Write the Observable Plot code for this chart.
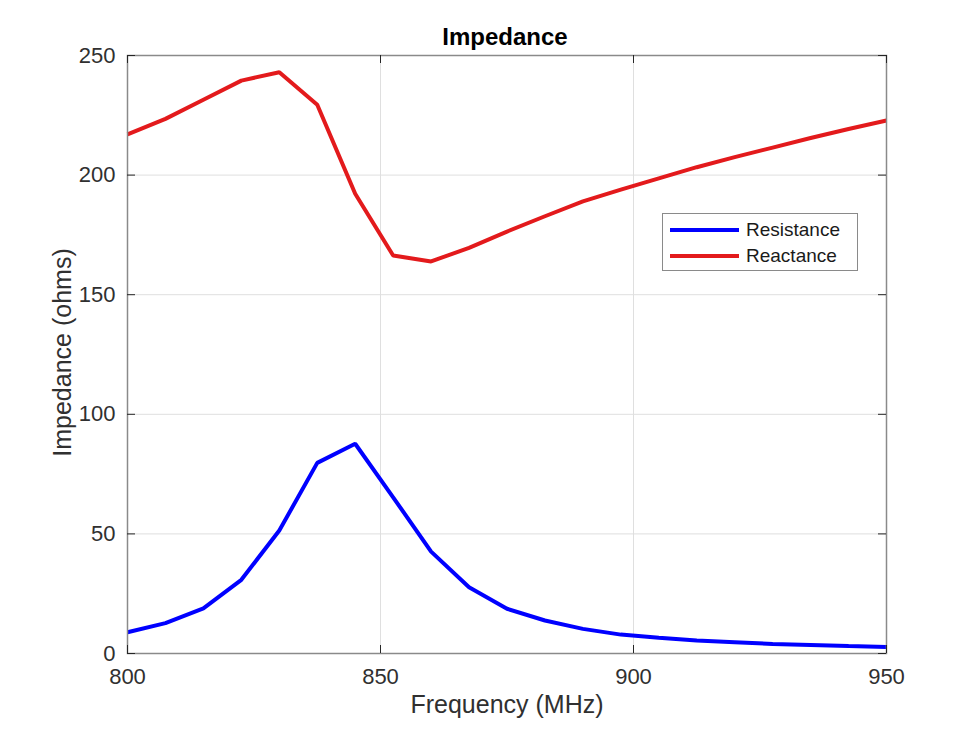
<!DOCTYPE html>
<html>
<head>
<meta charset="utf-8">
<script src="https://cdn.jsdelivr.net/npm/d3@7"></script>
<script src="https://cdn.jsdelivr.net/npm/@observablehq/plot@0.6"></script>
<style>
  html, body { margin: 0; padding: 0; background: #fff; }
  #wrap { position: relative; width: 980px; height: 735px; font-family: "Liberation Sans", Arial, Helvetica, sans-serif; }
  #legend { position: absolute; left: 662px; top: 213px; width: 196px; height: 58px; border: 1px solid #8a8a8a; background: #fff; box-sizing: border-box; }
  .item { position: absolute; left: 7px; display: flex; align-items: center; font-size: 19px; line-height: 22px; color: #1a1a1a; }
  .item svg { margin-right: 7px; }
</style>
</head>
<body>
<div id="wrap"></div>
<script>
const title = "Impedance";
const xLabel = "Frequency (MHz)";
const yLabel = "Impedance (ohms)";
const frequency = [800, 807.5, 815, 822.5, 830, 837.5, 845, 852.5, 860, 867.5, 875, 882.5, 890, 897.5, 905, 912.5, 920, 927.5, 935, 942.5, 950];
const resistance = [8.9, 12.7, 18.9, 30.8, 51.4, 79.7, 87.7, 65.3, 42.6, 27.7, 18.7, 13.8, 10.3, 7.9, 6.6, 5.4, 4.7, 4.0, 3.6, 3.1, 2.7];
const reactance = [217.0, 223.5, 231.5, 239.5, 243.0, 229.4, 192.2, 166.4, 163.9, 169.6, 176.4, 182.8, 189.0, 193.9, 198.6, 203.3, 207.5, 211.5, 215.5, 219.3, 222.8];
const seriesNames = ["Resistance", "Reactance"];
const seriesColors = ["#0000ff", "#e31a1c"];
const xTicks = [800, 850, 900, 950];
const yTicks = [0, 50, 100, 150, 200, 250];

const rows = [];
frequency.forEach((f, i) => {
  rows.push({f, v: resistance[i], s: seriesNames[0]});
  rows.push({f, v: reactance[i], s: seriesNames[1]});
});

const W = 980, H = 735;
const mL = 127, mR = 94, mT = 55, mB = 82;
const pw = W - mL - mR, ph = H - mT - mB;
const tickLen = 8;
const tickColor = "#262626";

const chart = Plot.plot({
  width: W, height: H,
  marginLeft: mL, marginRight: mR, marginTop: mT, marginBottom: mB,
  style: {fontFamily: '"Liberation Sans", Arial, Helvetica, sans-serif', background: "#fff"},
  x: {domain: [800, 950]},
  y: {domain: [0, 250]},
  color: {domain: seriesNames, range: seriesColors},
  marks: [
    Plot.ruleX(xTicks.slice(1, -1), {stroke: "#dfdfdf", strokeWidth: 1}),
    Plot.ruleY(yTicks.slice(1, -1), {stroke: "#dfdfdf", strokeWidth: 1}),
    Plot.line(rows, {x: "f", y: "v", z: "s", stroke: "s", strokeWidth: 4, strokeLinejoin: "miter", strokeLinecap: "butt"}),
    Plot.frame({stroke: "#8a8a8a", strokeWidth: 1.5}),
    // inward ticks on four sides
    Plot.tickX(xTicks, {x: d => d, insetTop: ph - tickLen, stroke: tickColor}),
    Plot.tickX(xTicks, {x: d => d, insetBottom: ph - tickLen, stroke: tickColor}),
    Plot.tickY(yTicks, {y: d => d, insetRight: pw - tickLen, stroke: tickColor}),
    Plot.tickY(yTicks, {y: d => d, insetLeft: pw - tickLen, stroke: tickColor}),
    Plot.axisX(xTicks, {anchor: "bottom", tickSize: 0, tickPadding: 15, fontSize: 22, fill: "#303030", label: null}),
    Plot.axisY(yTicks, {anchor: "left", tickSize: 0, tickPadding: 12, fontSize: 22, fill: "#303030", label: null}),
    Plot.text([xLabel], {frameAnchor: "bottom", dy: 59, fontSize: 25, fill: "#303030"}),
    Plot.text([yLabel], {frameAnchor: "left", textAnchor: "middle", lineAnchor: "middle", dx: -65, dy: -2, rotate: -90, fontSize: 25, fill: "#303030"}),
    Plot.text([title], {frameAnchor: "top", dy: -28, dx: -2, fontSize: 24, fontWeight: "bold", fill: "#000"})
  ]
});

const wrap = document.getElementById("wrap");
wrap.appendChild(chart);

const legend = document.createElement("div");
legend.id = "legend";
seriesNames.forEach((name, i) => {
  const item = document.createElement("div");
  item.className = "item";
  item.style.top = (i === 0 ? 5 : 31) + "px";
  item.innerHTML = `<svg width="69" height="8"><line x1="0" y1="4" x2="69" y2="4" stroke="${seriesColors[i]}" stroke-width="4"/></svg><span>${name}</span>`;
  legend.appendChild(item);
});
wrap.appendChild(legend);
</script>
</body>
</html>
